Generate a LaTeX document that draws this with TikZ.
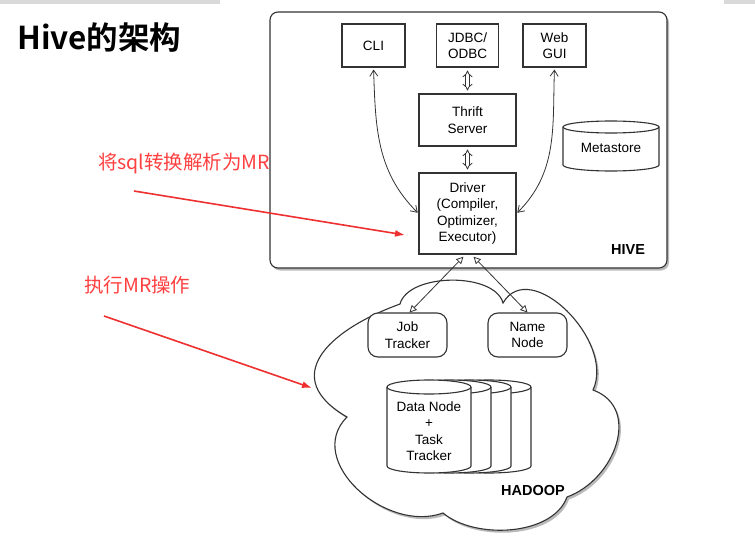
\documentclass[tikz,border=0pt]{standalone}
\usepackage{fontspec}
\setmainfont{Liberation Sans}
\newfontfamily\cjk{Noto Sans CJK SC}[BoldFont={Noto Sans CJK SC Bold}]
\usetikzlibrary{arrows.meta,shadows}

\definecolor{notered}{RGB}{255,64,64}
\definecolor{arrowred}{RGB}{238,48,48}
\newcommand{\hfont}{\fontsize{13.5}{16.5}\selectfont}
\newcommand{\notefont}{\cjk\fontsize{19.5}{22}\selectfont}
% drum: left, right, top y, bottom y, y radius
\newcommand{\dbdrum}[5]{%
  \filldraw[boxline, fill=white] (#1,#3) -- (#1,#4)
    arc[start angle=180, end angle=360, x radius={((#2)-(#1))/2}, y radius=#5] -- (#2,#3)
    arc[start angle=0, end angle=180, x radius={((#2)-(#1))/2}, y radius=#5] -- cycle;
  \draw[boxline] (#1,#3) arc[start angle=180, end angle=360, x radius={((#2)-(#1))/2}, y radius=#5];
}

\begin{document}
\begin{tikzpicture}[x=1pt,y=1pt,
  boxline/.style={draw=black!80, line width=1.1pt},
  hbox/.style={boxline, rectangle, fill=white, align=center, font=\hfont},
  rbox/.style={hbox, rounded corners=10},
  txt/.style={align=center, font=\hfont},
  biarrow/.style={black!80, line width=0.8pt, shorten <=2pt, shorten >=1pt,
    {Straight Barb[length=6pt,width=8pt]}-{Straight Barb[length=6pt,width=8pt]}},
  dblarrow/.style={black!80, line width=0.8pt, double distance=2.6pt, shorten <=3pt, shorten >=3pt,
    {Implies}-{Implies}},
  hollow/.style={black!80, line width=0.8pt, shorten <=3pt,
    {Triangle[open,length=7pt,width=7pt]}-{Triangle[open,length=7pt,width=7pt]}},
  note/.style={color=notered, anchor=base west, font=\notefont},
  pointer/.style={arrowred, line width=1.6pt, -{Latex[length=10pt,width=7pt]}},
  shade/.style={drop shadow={shadow xshift=2pt, shadow yshift=-2.5pt, opacity=.45, fill=black!60}}]
\tikzstyle{every node}+=[inner sep=0pt]
\useasboundingbox[fill=white] (0,0) rectangle (755,-538);
\fill[black!15] (0,0) rectangle (220,-4);
\fill[black!15] (724,0) rectangle (755,-4);

\node[anchor=base west, font=\cjk\bfseries\fontsize{31.5}{34}\selectfont] (title) at (17,-49) {Hive的架构};

\draw[boxline, fill=white, rounded corners=8, shade] (270,-12) rectangle (667,-268);
\draw[boxline, fill=white, shade] (347,-417)
  to[out=150,in=200,looseness=1.6] (400,-304)
  to[out=75,in=105,looseness=0.8] (503,-303)
  to[out=60,in=65,looseness=1.1] (593,-390)
  to[out=-20,in=20,looseness=1.2] (567,-497)
  to[out=-110,in=-40,looseness=0.85] (443,-513)
  to[out=-160,in=-135,looseness=1.15] cycle;

\node[hbox, minimum width=63, minimum height=43] (cli) at (373.5,-45.5) {CLI};
\node[hbox, minimum width=62, minimum height=43] (jdbc) at (467.5,-45.5) {JDBC/\\ODBC};
\node[hbox, minimum width=63, minimum height=43] (web) at (554.5,-45.5) {Web\\GUI};
\node[hbox, minimum width=97, minimum height=52] (thrift) at (467.5,-120) {Thrift\\Server};
\node[hbox, minimum width=97, minimum height=81] (driver) at (467.5,-213.5) {Driver\\(Compiler,\\Optimizer,\\Executor)};
\dbdrum{563}{659}{-127}{-165}{6}
\node[txt] (metastore) at (611,-148) {Metastore};
\node[font=\bfseries\fontsize{14.5}{16}\selectfont] (hivelabel) at (628,-250) {HIVE};

\node[rbox, minimum width=79, minimum height=44] (jobtracker) at (407.5,-335) {Job\\Tracker};
\node[rbox, minimum width=79, minimum height=44] (namenode) at (527.5,-335) {Name\\Node};
\foreach \dx in {60,40,20,0}
  \dbdrum{387+\dx}{471+\dx}{-387}{-466}{7}
\node[txt] (datanode) at (429,-431) {Data Node\\+\\Task\\Tracker};
\node[font=\bfseries\fontsize{14.5}{16}\selectfont] (hadooplabel) at (533,-491) {HADOOP};

\draw[biarrow] (cli.south) to[out=-88,in=135] (driver.west);
\draw[biarrow] (web.south) to[out=-92,in=45] (driver.east);
\draw[dblarrow] (jdbc) -- (thrift);
\draw[dblarrow] (thrift) -- (driver);
\draw[hollow] ([xshift=-2]driver.south) -- ([xshift=2]jobtracker.north);
\draw[hollow] ([xshift=4]driver.south) -- (namenode.north);

\node[note] (sqlnote) at (98,-169) {将sql转换解析为MR};
\node[note] (mrnote) at (84,-292) {执行MR操作};
\coordinate (sqlfrom) at (134,-191);
\coordinate (sqlto) at (405,-235);
\coordinate (mrfrom) at (104,-316);
\coordinate (mrto) at (312,-388);
\draw[pointer] (sqlfrom) -- (sqlto);
\draw[pointer] (mrfrom) -- (mrto);
\end{tikzpicture}
\end{document}
